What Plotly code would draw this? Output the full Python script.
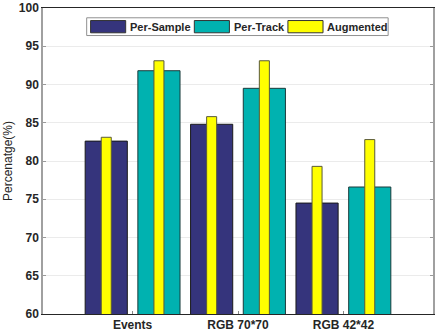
import numpy as np
import plotly.graph_objects as go

# datos
categorias = ['Events', 'RGB 70*70', 'RGB 42*42']
per_sample = [82.6, 84.8, 74.5]
per_track = [91.8, 89.5, 76.6]
aug_sample = [83.1, 85.8, 79.3]
aug_track = [93.1, 93.1, 82.8]
series = ['Per-Sample', 'Per-Track', 'Augmented']
colores = ['#35347C', '#00B2B0', '#FFFF00']

idx = np.arange(1, len(categorias) + 1)
x_ps = idx - 0.25
x_pt = idx + 0.25

fig = go.Figure()
fig.add_trace(go.Bar(x=x_ps, y=per_sample, width=0.4, name=series[0],
                     marker=dict(color=colores[0], line=dict(color='#1a1a1a', width=1))))
fig.add_trace(go.Bar(x=x_pt, y=per_track, width=0.4, name=series[1],
                     marker=dict(color=colores[1], line=dict(color='#1a3a3a', width=1))))
fig.add_trace(go.Bar(x=np.concatenate([x_ps, x_pt]), y=aug_sample + aug_track, width=0.095,
                     name=series[2],
                     marker=dict(color=colores[2], line=dict(color='#5a5a3a', width=1))))

# leyenda manual (muestras anchas como en MATLAB)
fig.add_shape(type='rect', xref='paper', yref='paper', x0=0.112, x1=0.885, y0=0.910, y1=0.968,
              line=dict(color='#909090', width=1), fillcolor='white', layer='above')
px0 = [0.122, 0.388, 0.628]
for i, nombre in enumerate(series):
    fig.add_shape(type='rect', xref='paper', yref='paper', x0=px0[i], x1=px0[i] + 0.090,
                  y0=0.919, y1=0.959, fillcolor=colores[i],
                  line=dict(color='#333333', width=1), layer='above')
    fig.add_annotation(x=px0[i] + 0.096, y=0.939, xref='paper', yref='paper', text=nombre,
                       showarrow=False, xanchor='left', yanchor='middle',
                       font=dict(family='Liberation Sans', size=11, color='#262626', weight='bold'))

fig.update_layout(
    width=436, height=333,
    margin=dict(l=43, r=1, t=4, b=19),
    barmode='overlay',
    showlegend=False,
    plot_bgcolor='white', paper_bgcolor='white',
    font=dict(family='Liberation Sans', size=11, color='#262626'),
)
fig.update_xaxes(range=[0.15, 3.85], tickvals=idx, ticktext=categorias,
                 ticks='inside', ticklen=3, tickcolor='#888888',
                 showline=True, linecolor='#262626', linewidth=1, mirror=True,
                 showgrid=False, zeroline=False,
                 tickfont=dict(size=12, weight='bold', color='#262626'))
fig.update_yaxes(range=[60, 100], dtick=5, ticks='inside', ticklen=3, tickcolor='#999999',
                 showline=True, linecolor='#a0a0a0', linewidth=1.5, mirror='ticks',
                 showgrid=True, gridcolor='#EBEBEB', zeroline=False,
                 ticklabeloverflow='allow',
                 tickfont=dict(size=12, weight='bold', color='#262626'),
                 title=dict(text='Percenatge(%)', standoff=4,
                            font=dict(size=12, color='#262626')))

fig.write_html("out.html", config={'displayModeBar': False},
               post_script="document.body.style.margin='0';")
